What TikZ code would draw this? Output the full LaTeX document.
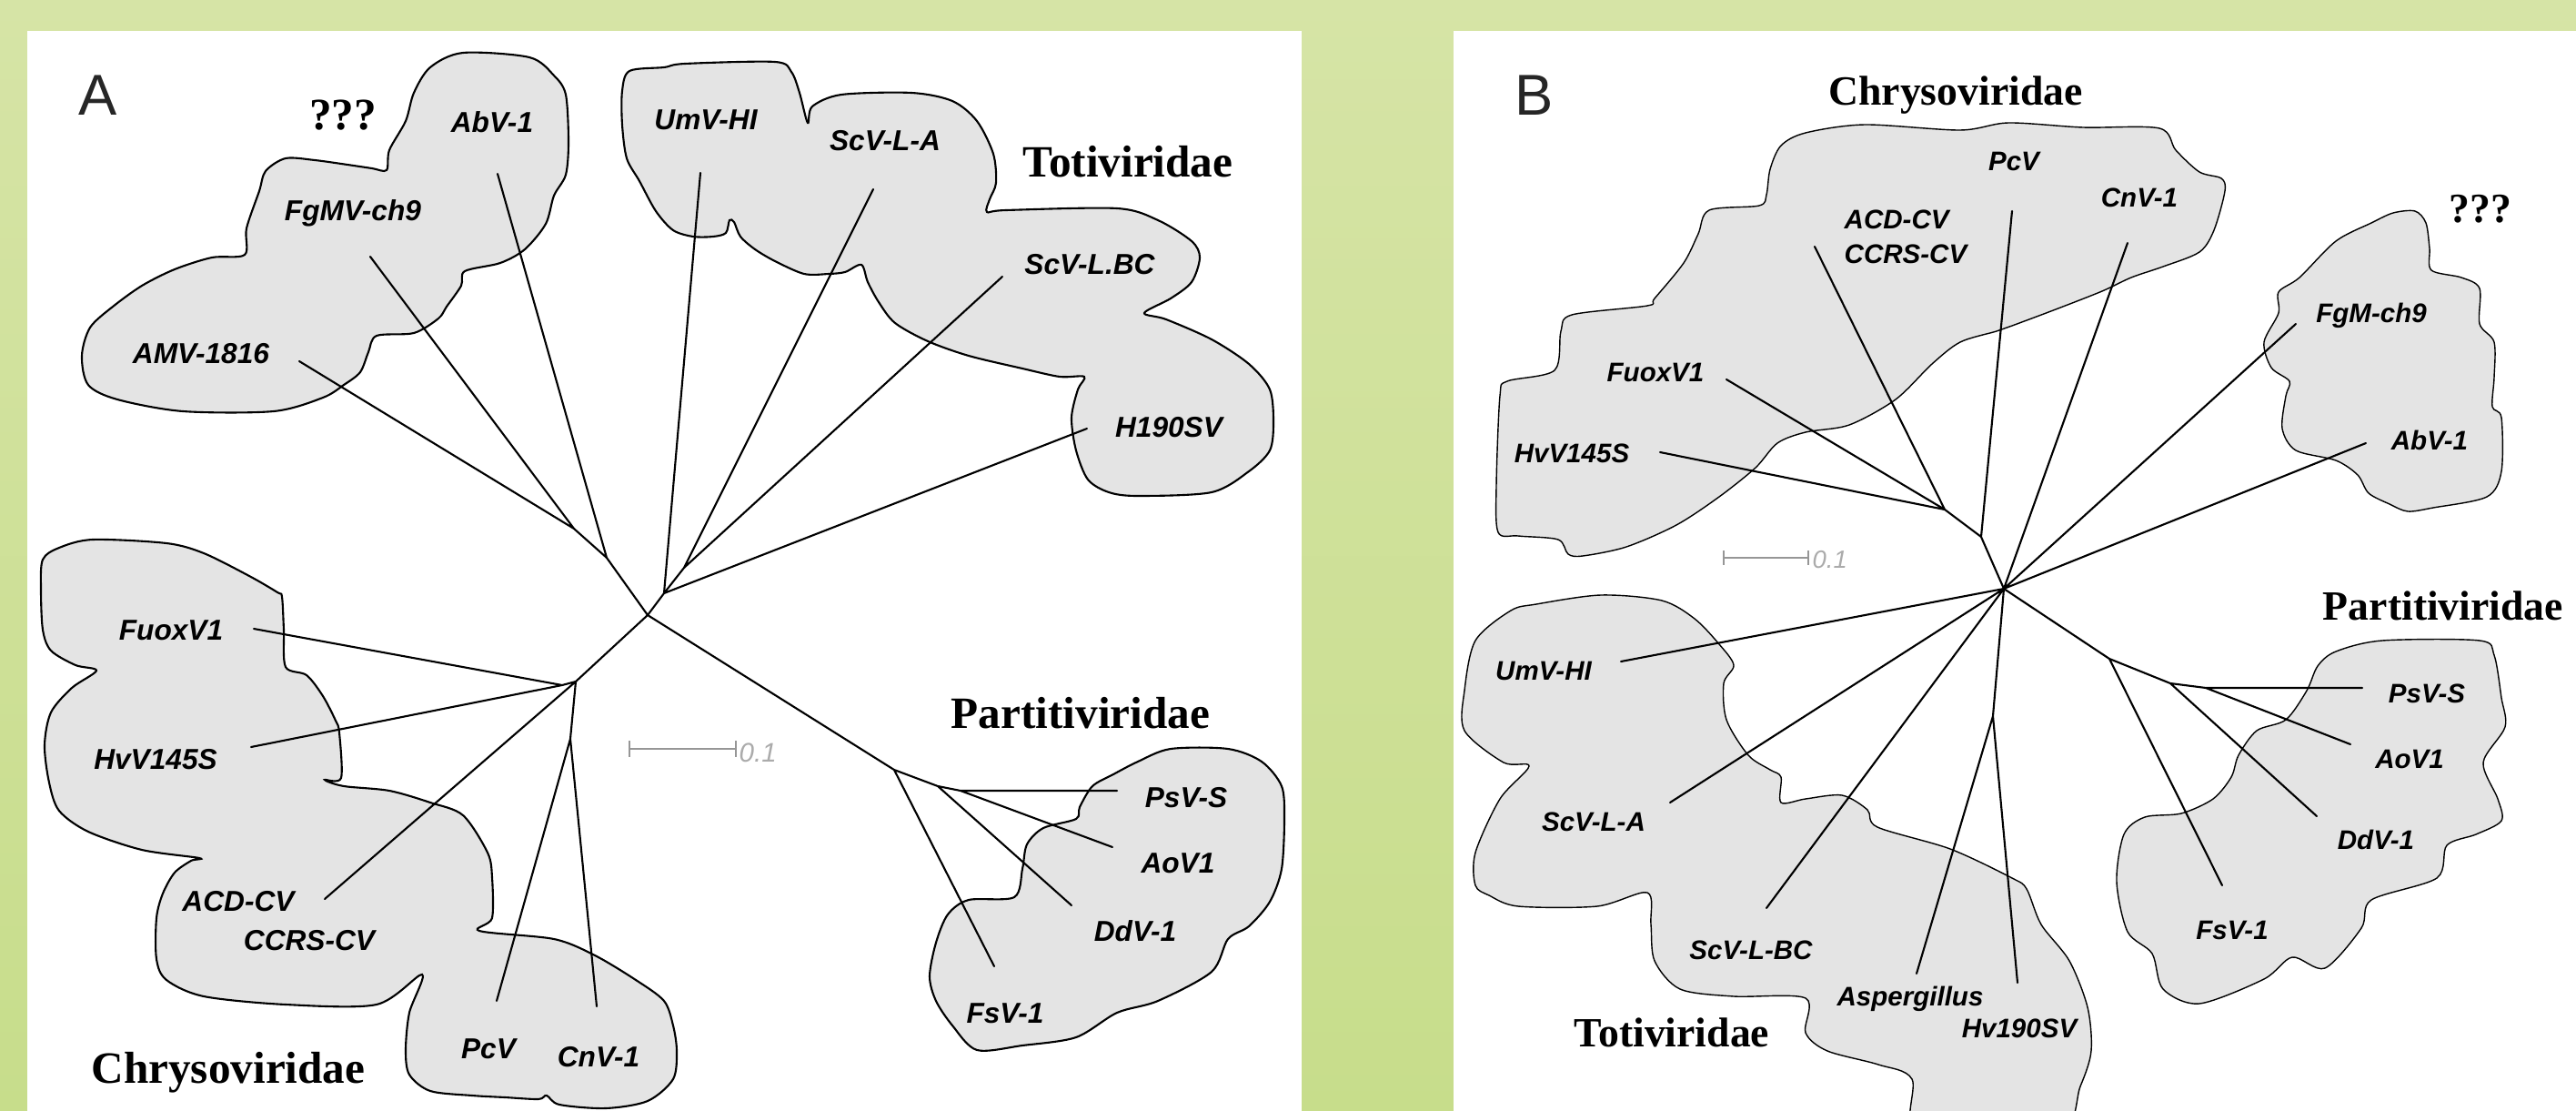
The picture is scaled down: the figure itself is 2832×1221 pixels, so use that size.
\documentclass[tikz,border=0pt]{standalone}
\usepackage{fontspec}
\setmainfont{Liberation Serif}
\setsansfont{Liberation Sans}
\usepackage{tikz}
\definecolor{bgtop}{RGB}{214,228,166}
\definecolor{bgbot}{RGB}{199,221,139}
\definecolor{blobgray}{RGB}{228,228,228}
\definecolor{scalegray}{RGB}{150,150,150}

\begin{document}
\begin{tikzpicture}[
  x=0.01cm, y=-0.01cm,
  branch/.style={line width=0.6pt, line cap=round},
  blobA/.style={draw=black, line width=0.6pt, fill=blobgray},
  blobB/.style={fill=blobgray},
  leafA/.style={font=\sffamily\bfseries\itshape\fontsize{9}{10}\selectfont, inner sep=0pt, anchor=base},
  leafB/.style={font=\sffamily\bfseries\itshape\fontsize{8.4}{9}\selectfont, inner sep=0pt, anchor=base},
  famA/.style={font=\rmfamily\bfseries\fontsize{14}{16}\selectfont, inner sep=0pt, anchor=base},
  famB/.style={font=\rmfamily\bfseries\fontsize{13}{15}\selectfont, inner sep=0pt, anchor=base},
  panelmark/.style={font=\sffamily\fontsize{18}{20}\selectfont, text=black!85, inner sep=0pt, anchor=base},
  scalebar/.style={draw=scalegray, line width=0.7pt},
  scaletxt/.style={text=scalegray!80, font=\sffamily\itshape, inner sep=0pt, anchor=base west}
]
  \path[use as bounding box] (0,0) rectangle (2832,1221);
  \shade[top color=bgtop, bottom color=bgbot] (0,0) rectangle (2832,1221);
  \fill[white] (30,34) rectangle (1431,1221);
  \fill[white] (1598,34) rectangle (2832,1221);

  % ---------- panel A ----------
  \draw[blobA] plot[smooth cycle, tension=0.5] coordinates {
    (473,74) (509,58) (582,63) (609,83) (622,104) (625,156) (622,192) (609,215)
    (600,246) (577,274) (550,289) (511,298) (507,314) (491,337) (482,350) (455,366)
    (414,369) (405,387) (396,409) (378,423) (355,437) (301,452) (201,452) (129,439)
    (97,423) (90,391) (99,360) (124,337) (156,314) (192,296) (233,283) (269,280)
    (271,251) (285,210) (292,188) (314,174) (346,176) (382,181) (409,185) (425,187)
    (428,165) (446,133) (455,102)};
  \draw[blobA] plot[smooth cycle, tension=0.5] coordinates {
    (684,100) (692,78) (730,74) (753,70) (852,68) (870,79) (879,102) (888,135)
    (893,117) (925,104) (1002,102) (1047,111) (1074,133) (1092,169) (1095,201)
    (1088,219) (1085,233) (1106,231) (1228,229) (1273,242) (1310,265) (1319,283)
    (1310,310) (1287,328) (1258,344) (1282,351) (1332,373) (1373,400) (1396,428)
    (1400,464) (1396,495) (1373,518) (1332,541) (1251,545) (1219,541) (1196,527)
    (1183,495) (1178,459) (1185,428) (1192,414) (1165,414) (1124,405) (1065,391)
    (1020,375) (984,355) (966,332) (954,310) (947,291) (929,299) (911,301) (884,301)
    (852,287) (830,274) (814,260) (807,244) (802,242) (798,256) (784,260) (762,260)
    (740,253) (721,232) (703,199) (689,174) (684,137)};
  \draw[blobA] plot[smooth cycle, tension=0.5] coordinates {
    (45,647) (47,615) (65,602) (102,593) (183,597) (224,608) (274,633) (305,651)
    (310,656) (312,692) (314,733) (337,742) (355,765) (369,792) (373,805) (375,855)
    (357,857) (378,864) (428,869) (473,882) (509,896) (536,937) (541,964) (541,1009)
    (527,1023) (609,1032) (654,1050) (699,1077) (730,1100) (740,1127) (744,1155)
    (740,1186) (712,1210) (666,1218) (615,1214) (601,1204) (592,1208) (555,1206)
    (519,1204) (473,1199) (450,1181) (446,1154) (450,1113) (464,1071) (414,1104)
    (314,1104) (224,1095) (183,1077) (172,1054) (172,1009) (179,982) (192,959)
    (210,946) (219,943) (156,934) (97,914) (65,891) (54,860) (49,819) (56,783)
    (79,756) (106,737) (83,731) (56,715) (47,692)};
  \draw[blobA] plot[smooth cycle, tension=0.5] coordinates {
    (1287,823) (1350,823) (1387,837) (1409,864) (1412,900) (1409,955) (1396,991)
    (1373,1018) (1350,1032) (1332,1068) (1273,1100) (1228,1113) (1183,1140)
    (1124,1149) (1074,1154) (1047,1127) (1029,1100) (1022,1073) (1029,1036)
    (1042,1005) (1065,989) (1115,986) (1124,955) (1129,928) (1147,910) (1183,900)
    (1187,887) (1201,864) (1224,851) (1251,837)};

  % inner nodes of tree A
  \coordinate (aC) at (712,676);
  \coordinate (aT) at (730,652);
  \coordinate (aJ) at (752,624);
  \coordinate (aQ) at (667,613);
  \coordinate (aQ1) at (631,581);
  \coordinate (aCh) at (633,749);
  \coordinate (aFH) at (618,753);
  \coordinate (aPC) at (627,812);
  \coordinate (aP) at (983,846);
  \coordinate (aP2) at (1031,864);
  \coordinate (aP3) at (1056,869);
  % leaf ends of tree A
  \coordinate (aAbV) at (547,191);
  \coordinate (aFgMV) at (407,282);
  \coordinate (aAMV) at (329,397);
  \coordinate (aUmV) at (770,190);
  \coordinate (aScA) at (960,208);
  \coordinate (aScBC) at (1102,304);
  \coordinate (aH190) at (1195,471);
  \coordinate (aFuox) at (279,691);
  \coordinate (aHvV) at (276,821);
  \coordinate (aACD) at (357,988);
  \coordinate (aPcV) at (546,1100);
  \coordinate (aCnV) at (656,1106);
  \coordinate (aPsV) at (1228,869);
  \coordinate (aAoV) at (1223,931);
  \coordinate (aDdV) at (1178,995);
  \coordinate (aFsV) at (1093,1062);

  \draw[branch] (aC) -- (aT) (aC) -- (aQ) (aC) -- (aCh) (aC) -- (aP);
  \draw[branch] (aQ) -- (aQ1) (aQ1) -- (aAMV) (aQ1) -- (aFgMV) (aQ) -- (aAbV);
  \draw[branch] (aT) -- (aUmV) (aT) -- (aJ) (aJ) -- (aScA) (aJ) -- (aScBC) (aT) -- (aH190);
  \draw[branch] (aCh) -- (aFH) (aFH) -- (aFuox) (aFH) -- (aHvV) (aCh) -- (aACD)
    (aCh) -- (aPC) (aPC) -- (aPcV) (aPC) -- (aCnV);
  \draw[branch] (aP) -- (aFsV) (aP) -- (aP2) (aP2) -- (aDdV) (aP2) -- (aP3)
    (aP3) -- (aPsV) (aP3) -- (aAoV);

  \node[panelmark] (markA) at (108,126) {A};
  \node[famA] (qA) at (377,143) {???};
  \node[famA] (totiA) at (1240,194) {Totiviridae};
  \node[famA] (chrysoA) at (251,1190) {Chrysoviridae};
  \node[famA] (partiA) at (1188,800) {Partitiviridae};

  \node[leafA] (lAbVa) at (541,146) {AbV-1};
  \node[leafA] (lFgMVa) at (388,242) {FgMV-ch9};
  \node[leafA] (lAMVa) at (221,399) {AMV-1816};
  \node[leafA] (lUmVa) at (776,143) {UmV-HI};
  \node[leafA] (lScAa) at (973,165) {ScV-L-A};
  \node[leafA] (lScBCa) at (1198,301) {ScV-L.BC};
  \node[leafA] (lH190a) at (1285,480) {H190SV};
  \node[leafA] (lFuoxa) at (188,703) {FuoxV1};
  \node[leafA] (lHvVa) at (171,845) {HvV145S};
  \node[leafA] (lACDa) at (262,1001) {ACD-CV};
  \node[leafA] (lCCRSa) at (340,1044) {CCRS-CV};
  \node[leafA] (lPcVa) at (537,1163) {PcV};
  \node[leafA] (lCnVa) at (658,1172) {CnV-1};
  \node[leafA] (lPsVa) at (1304,887) {PsV-S};
  \node[leafA] (lAoVa) at (1295,959) {AoV1};
  \node[leafA] (lDdVa) at (1248,1034) {DdV-1};
  \node[leafA] (lFsVa) at (1105,1124) {FsV-1};

  \coordinate (sA1) at (692,823);
  \coordinate (sA2) at (809,823);
  \draw[scalebar] (sA1) -- (sA2);
  \draw[scalebar] (sA1) ++(0,-9) -- ++(0,18);
  \draw[scalebar] (sA2) ++(0,-9) -- ++(0,18);
  \node[scaletxt, font=\sffamily\itshape\fontsize{8.4}{9}\selectfont] (sAt) at (812,837) {0.1};

  % ---------- panel B ----------
  \draw[blobB] plot[smooth cycle, tension=0.5] coordinates {
    (1985,146) (2050,137) (2155,143) (2208,135) (2290,140) (2374,141) (2392,165)
    (2418,189) (2442,196) (2446,210) (2434,253) (2418,277) (2378,293) (2343,305)
    (2311,320) (2260,340) (2212,358) (2195,364) (2155,376) (2124,400) (2084,439)
    (2033,467) (1985,475) (1954,487) (1930,514) (1890,546) (1843,577) (1788,601)
    (1740,611) (1724,609) (1713,593) (1669,589) (1647,585) (1645,534) (1649,435)
    (1657,419) (1709,407) (1716,364) (1728,346) (1811,336) (1819,328) (1851,289)
    (1867,257) (1879,231) (1934,226) (1942,214) (1946,186) (1958,160)};
  \draw[blobB] plot[smooth cycle, tension=0.5] coordinates {
    (2655,232) (2667,245) (2671,273) (2673,297) (2706,305) (2726,317) (2726,356)
    (2742,376) (2742,415) (2740,447) (2750,459) (2750,518) (2734,546) (2675,558)
    (2647,562) (2627,554) (2604,542) (2592,522) (2568,506) (2524,495) (2509,471)
    (2513,435) (2517,419) (2497,404) (2489,376) (2505,344) (2505,321) (2528,305)
    (2568,265) (2607,245) (2631,234)};
  \begin{scope}
    \clip (1598,34) rectangle (2832,1221);
    \draw[blobB] plot[smooth cycle, tension=0.5] coordinates {
      (1622,704) (1661,671) (1689,664) (1760,654) (1827,660) (1863,680) (1890,708)
      (1906,731) (1895,751) (1898,791) (1922,830) (1946,846) (1958,854) (1958,882)
      (1985,878) (2025,874) (2053,890) (2064,909) (2144,933) (2212,965) (2228,977)
      (2244,1016) (2275,1056) (2295,1107) (2299,1155) (2287,1194) (2260,1250)
      (2110,1250) (2102,1186) (2065,1170) (2009,1155) (1985,1135) (1985,1097)
      (1906,1095) (1847,1087) (1819,1056) (1815,1016) (1811,981) (1756,996)
      (1669,996) (1637,984) (1622,973) (1622,937) (1649,878) (1681,842) (1653,838)
      (1610,803) (1610,759)};
  \end{scope}
  \draw[blobB] plot[smooth cycle, tension=0.5] coordinates {
    (2548,732) (2568,716) (2619,704) (2726,704) (2742,720) (2750,767) (2754,799)
    (2730,838) (2746,878) (2750,902) (2722,917) (2690,929) (2679,965) (2607,989)
    (2596,1020) (2556,1064) (2520,1052) (2489,1076) (2418,1103) (2378,1087)
    (2366,1048) (2339,1024) (2327,969) (2335,917) (2358,898) (2398,894) (2433,878)
    (2453,854) (2461,830) (2481,803) (2513,791) (2536,759)};

  % inner nodes of tree B
  \coordinate (bC) at (2203,647);
  \coordinate (bN1) at (2178,590);
  \coordinate (bN2) at (2138,560);
  \coordinate (bT) at (2191,787);
  \coordinate (bPa) at (2319,724);
  \coordinate (bPb) at (2386,751);
  \coordinate (bPc) at (2425,756);
  % leaf ends of tree B
  \coordinate (bPcV) at (2212,232);
  \coordinate (bACD) at (1995,271);
  \coordinate (bFuox) at (1898,417);
  \coordinate (bHvV) at (1825,497);
  \coordinate (bCnV) at (2339,267);
  \coordinate (bFgM) at (2524,356);
  \coordinate (bAbV) at (2601,487);
  \coordinate (bUmV) at (1782,727);
  \coordinate (bScA) at (1836,882);
  \coordinate (bScBC) at (1942,998);
  \coordinate (bAsp) at (2107,1070);
  \coordinate (bHv190) at (2218,1080);
  \coordinate (bFsV) at (2443,973);
  \coordinate (bDdV) at (2547,897);
  \coordinate (bPsV) at (2597,756);
  \coordinate (bAoV) at (2584,818);

  \draw[branch] (bC) -- (bN1) (bN1) -- (bPcV) (bN1) -- (bN2)
    (bN2) -- (bACD) (bN2) -- (bFuox) (bN2) -- (bHvV);
  \draw[branch] (bC) -- (bCnV) (bC) -- (bFgM) (bC) -- (bAbV);
  \draw[branch] (bC) -- (bUmV) (bC) -- (bScA) (bC) -- (bScBC)
    (bC) -- (bT) (bT) -- (bAsp) (bT) -- (bHv190);
  \draw[branch] (bC) -- (bPa) (bPa) -- (bFsV) (bPa) -- (bPb) (bPb) -- (bDdV)
    (bPb) -- (bPc) (bPc) -- (bPsV) (bPc) -- (bAoV);

  \node[panelmark] (markB) at (1687,126) {B};
  \node[famB] (chrysoB) at (2150,115) {Chrysoviridae};
  \node[famB] (qB) at (2727,244) {???};
  \node[famB] (partiB) at (2686,681) {Partitiviridae};
  \node[famB] (totiB) at (1838,1150) {Totiviridae};

  \node[leafB, anchor=base west] (lACDb) at (2027,251) {ACD-CV};
  \node[leafB, anchor=base west] (lCCRSb) at (2027,289) {CCRS-CV};
  \node[leafB] (lPcVb) at (2214,187) {PcV};
  \node[leafB] (lCnVb) at (2352,227) {CnV-1};
  \node[leafB] (lFgMb) at (2607,354) {FgM-ch9};
  \node[leafB] (lAbVb) at (2671,494) {AbV-1};
  \node[leafB] (lFuoxb) at (1820,419) {FuoxV1};
  \node[leafB] (lHvVb) at (1728,508) {HvV145S};
  \node[leafB] (lUmVb) at (1697,747) {UmV-HI};
  \node[leafB] (lScAb) at (1752,913) {ScV-L-A};
  \node[leafB] (lScBCb) at (1925,1054) {ScV-L-BC};
  \node[leafB] (lAspb) at (2100,1105) {Aspergillus};
  \node[leafB] (lHv190b) at (2220,1140) {Hv190SV};
  \node[leafB] (lPsVb) at (2668,772) {PsV-S};
  \node[leafB] (lAoVb) at (2649,844) {AoV1};
  \node[leafB] (lDdVb) at (2612,933) {DdV-1};
  \node[leafB] (lFsVb) at (2454,1032) {FsV-1};

  \coordinate (sB1) at (1895,613);
  \coordinate (sB2) at (1988,613);
  \draw[scalebar] (sB1) -- (sB2);
  \draw[scalebar] (sB1) ++(0,-8) -- ++(0,16);
  \draw[scalebar] (sB2) ++(0,-8) -- ++(0,16);
  \node[scaletxt, font=\sffamily\itshape\fontsize{7.8}{9}\selectfont] (sBt) at (1992,624) {0.1};
\end{tikzpicture}
\end{document}
